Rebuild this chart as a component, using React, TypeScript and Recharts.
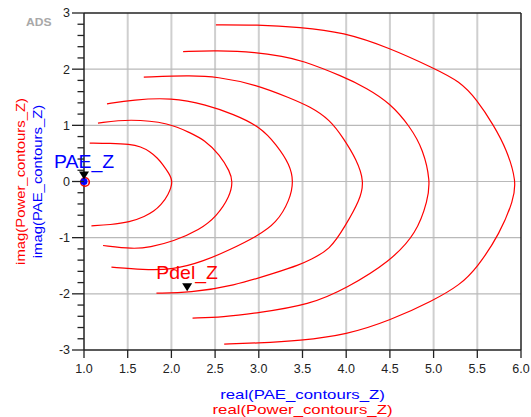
import React from 'react';
import { ComposedChart, Line, Scatter, XAxis, YAxis, CartesianGrid, ReferenceLine } from 'recharts';

const contour1: [number, number][] = [
  [1.065, 0.684], [1.3, 0.68], [1.523, 0.666], [1.65, 0.62], [1.753, 0.534], [1.84, 0.42], [1.905, 0.297], [1.97, 0.15], [2.022, 0.0],
  [1.965, -0.24], [1.88, -0.42], [1.8, -0.53], [1.7, -0.62], [1.523, -0.725], [1.3, -0.77], [1.085, -0.79],
];
const contour2: [number, number][] = [
  [1.16, 1.04], [1.523, 1.116], [1.982, 1.04], [2.211, 0.867], [2.38, 0.74], [2.554, 0.475], [2.669, 0.178], [2.703, 0.0],
  [2.669, -0.267], [2.517, -0.623], [2.325, -0.86], [2.019, -1.068], [1.753, -1.171], [1.561, -1.203], [1.218, -1.139],
];
const contour3: [number, number][] = [
  [1.263, 1.383], [1.561, 1.455], [2.001, 1.495], [2.402, 1.366], [2.707, 1.2], [3.013, 0.979], [3.204, 0.653], [3.356, 0.297], [3.398, 0.0],
  [3.356, -0.326], [3.204, -0.741], [2.975, -0.979], [2.669, -1.216], [2.363, -1.424], [2.019, -1.572], [1.676, -1.572], [1.314, -1.524],
];
const contour4: [number, number][] = [
  [1.684, 1.859], [2.211, 1.887], [2.517, 1.869], [2.975, 1.722], [3.356, 1.485], [3.585, 1.335], [3.815, 1.098], [3.967, 0.773], [4.12, 0.386], [4.207, 0.0],
  [4.158, -0.326], [3.986, -0.801], [3.815, -1.216], [3.585, -1.394], [3.471, -1.48], [3.204, -1.62], [2.707, -1.86], [2.211, -1.98], [1.829, -1.987],
];
const contour5: [number, number][] = [
  [2.134, 2.314], [2.517, 2.332], [2.975, 2.304], [3.28, 2.225], [3.471, 2.167], [3.967, 1.869], [4.235, 1.663], [4.502, 1.396], [4.731, 0.979], [4.883, 0.564], [4.963, 0.0],
  [4.933, -0.326], [4.808, -0.919], [4.502, -1.424], [4.006, -1.898], [3.585, -2.195], [2.975, -2.343], [2.592, -2.414], [2.242, -2.432],
];
const contour6: [number, number][] = [
  [2.509, 2.79], [2.975, 2.79], [3.471, 2.749], [3.967, 2.66], [4.502, 2.375], [4.998, 2.019], [5.304, 1.78], [5.495, 1.455], [5.685, 1.009], [5.839, 0.564], [5.948, 0.0],
  [5.914, -0.326], [5.762, -0.919], [5.495, -1.542], [5.304, -1.839], [4.998, -2.119], [4.502, -2.475], [4.006, -2.729], [3.471, -2.836], [2.975, -2.877], [2.604, -2.895],
];
const contours = [contour1, contour2, contour3, contour4, contour5, contour6];

const xTicks = [1.0, 1.5, 2.0, 2.5, 3.0, 3.5, 4.0, 4.5, 5.0, 5.5, 6.0];
const yTickLabels = [-3, -2, -1, 0, 1, 2, 3];
const xGridValues = [1.5, 2.0, 2.5, 3.0, 3.5, 4.0, 4.5, 5.0, 5.5];
const yGridValues = [-2, -1, 0, 1, 2];

const markerNames = ['PAE_Z', 'Pdel_Z'];
const markerX = [1.0, 2.18];
const markerY = [0.0, -1.99];
const markerColors = ['#0000ff', '#ff0000'];
const markerHasDot = [true, false];

// major ticks at the labelled integers, four minor ticks between each
const yTicks: number[] = [];
yTickLabels.forEach((v, i) => {
  yTicks.push(v);
  if (i < yTickLabels.length - 1) for (let k = 1; k < 5; k++) yTicks.push(Math.round((v + k * 0.2) * 10) / 10);
});

const markerData = markerNames.map((name, i) => ({
  x: markerX[i], y: markerY[i], name, color: markerColors[i], dot: markerHasDot[i],
}));

const FONT = '"Liberation Sans", Arial, sans-serif';

const YTick = (props: any) => {
  const { x, y, payload } = props;
  const v = payload.value;
  const major = yTickLabels.some((t) => Math.abs(t - v) < 1e-6);
  return (
    <g>
      <line x1={x - (major ? 12 : 6.5)} x2={x} y1={y} y2={y} stroke="#222" strokeWidth={1.3} />
      {major && (
        <text x={x - 14} y={y} dy="0.355em" textAnchor="end" fontSize={12.5} fill="#222" fontFamily={FONT}>
          {String(Math.round(v))}
        </text>
      )}
    </g>
  );
};

const MarkerShape = (props: any) => {
  const { cx, cy, payload } = props;
  if (cx == null || cy == null) return <g />;
  return (
    <g>
      {payload.dot && (
        <>
          <circle cx={cx + 1} cy={cy + 0.5} r={4.3} fill="none" stroke="#ff0000" strokeWidth={1.6} />
          <circle cx={cx} cy={cy} r={3.5} fill="#0000ff" />
        </>
      )}
      <polygon points={`${cx - 5},${cy - 10} ${cx + 5},${cy - 10} ${cx},${cy - 2}`} fill="#000" />
      <text
        transform={`translate(${cx},${cy - 14}) scale(1.08,1)`}
        textAnchor="middle"
        fontSize={18}
        fill={payload.color}
        fontFamily={FONT}
      >
        {payload.name}
      </text>
    </g>
  );
};

const XLabel = (props: any) => {
  const vb = props.viewBox || { x: 84, y: 350, width: 437, height: 67 };
  const cx = vb.x + vb.width / 2;
  return (
    <g>
      <text transform={`translate(${cx},${vb.y + 49}) scale(1.4,1)`} textAnchor="middle" fontSize={12} fill="#0000ff" fontFamily={FONT}>
        real(PAE_contours_Z)
      </text>
      <text transform={`translate(${cx},${vb.y + 63.5}) scale(1.4,1)`} textAnchor="middle" fontSize={12} fill="#ff0000" fontFamily={FONT}>
        real(Power_contours_Z)
      </text>
    </g>
  );
};

const YLabel = (props: any) => {
  const vb = props.viewBox || { x: 0, y: 13, width: 84, height: 337 };
  const cy = vb.y + vb.height / 2;
  return (
    <g>
      <text transform={`translate(${vb.x + 25},${cy}) rotate(-90) scale(1.24,1)`} textAnchor="middle" fontSize={12} fill="#ff0000" fontFamily={FONT}>
        imag(Power_contours_Z)
      </text>
      <text transform={`translate(${vb.x + 41.5},${cy}) rotate(-90) scale(1.24,1)`} textAnchor="middle" fontSize={12} fill="#0000ff" fontFamily={FONT}>
        imag(PAE_contours_Z)
      </text>
    </g>
  );
};

export default function App() {
  return (
    <div style={{ position: 'absolute', left: 0, top: 0, width: 531, height: 417, background: '#fff' }}>
      <ComposedChart width={531} height={417} margin={{ top: 13, right: 10, bottom: 0, left: 0 }}>
        <CartesianGrid horizontal={false} verticalValues={xGridValues} stroke="#cfcfcf" strokeWidth={2} />
        <CartesianGrid vertical={false} horizontalValues={yGridValues} stroke="#b9b9b9" strokeWidth={1.2} />
        <XAxis
          type="number"
          dataKey="x"
          domain={[1, 6]}
          ticks={xTicks}
          interval={0}
          height={67}
          tickSize={8}
          tickMargin={6}
          tickFormatter={(v: number) => v.toFixed(1)}
          tick={{ fontSize: 12.5, fill: '#222', fontFamily: FONT }}
          axisLine={{ stroke: '#222', strokeWidth: 1.5 }}
          tickLine={{ stroke: '#222', strokeWidth: 1.3 }}
          label={(p: any) => <XLabel {...p} />}
        />
        <YAxis
          type="number"
          dataKey="y"
          domain={[-3, 3]}
          ticks={yTicks}
          interval={0}
          width={84}
          tickSize={0}
          tickMargin={0}
          tick={<YTick />}
          axisLine={{ stroke: '#222', strokeWidth: 1.5 }}
          tickLine={false}
          label={(p: any) => <YLabel {...p} />}
        />
        <ReferenceLine y={3} stroke="#222" strokeWidth={1.5} />
        <ReferenceLine x={6} stroke="#222" strokeWidth={1.5} />
        {contours.map((c, i) => (
          <Line
            key={i}
            data={c.map(([x, y]) => ({ x, y }))}
            dataKey="y"
            type="basis"
            stroke="#ff0000"
            strokeWidth={1.2}
            dot={false}
            activeDot={false}
            isAnimationActive={false}
          />
        ))}
        <Scatter data={markerData} dataKey="y" shape={<MarkerShape />} isAnimationActive={false} />
      </ComposedChart>
      <svg width={531} height={417} style={{ position: 'absolute', left: 0, top: 0, pointerEvents: 'none' }}>
        <text transform="translate(26,25.7) scale(1.15,1)" fontSize={10.5} fontWeight="bold" fill="#a8a8a8" fontFamily={FONT}>
          ADS
        </text>
      </svg>
    </div>
  );
}
